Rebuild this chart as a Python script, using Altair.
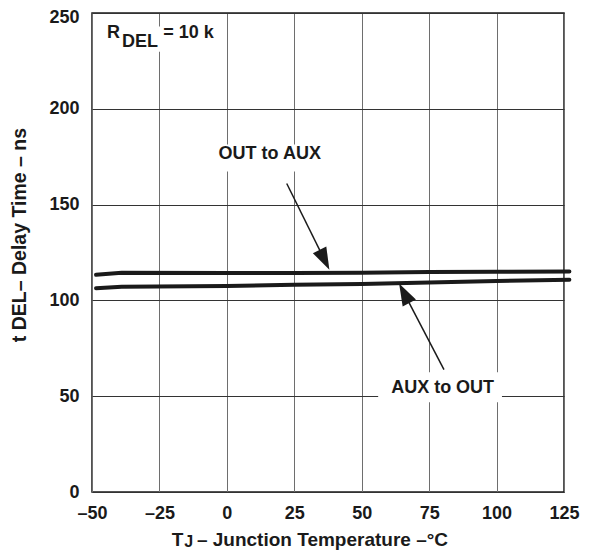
import altair as alt
import pandas as pd

FONT = "Liberation Sans"

# Curve data
temp = [-48.5, -39, 0, 25, 50, 75, 100, 127]
out_to_aux = [113.4, 114.4, 114.3, 114.3, 114.4, 114.8, 114.9, 115.1]
aux_to_out = [106.4, 107.1, 107.5, 108.2, 108.5, 109.4, 110.1, 110.8]

x_ticks = [-50, -25, 0, 25, 50, 75, 100, 125]
y_ticks = [0, 50, 100, 150, 200, 250]

# Annotations (data coordinates)
labels = ["OUT to AUX", "AUX to OUT"]
label_x = [15.9, 80.0]
label_y = [176.3, 54.5]
arrow_x0 = [22.2, 80.5]
arrow_y0 = [161.0, 63.9]
head_x = [36.2, 65.75]
head_y = [121.2, 103.7]
head_angle = [153.6, 332.4]

box_x = [-6.2, 56.1, -47.6]
box_x2 = [38.3, 102.0, -2.4]
box_y = [181.4, 62.5, 242.9]
box_y2 = [167.3, 46.8, 229.8]

rdel_text = ["R", "DEL", "= 10 k"]
rdel_x = [-44.4, -38.9, -23.6]
rdel_y = [239.4, 234.9, 239.4]

xt_text = ["T", "J", "– Junction Temperature –°C"]
xt_x = [-20.4, -15.8, -11.1]
xt_y = [-25.0, -26.2, -25.0]
xt_size = [19, 16, 19]

yt_text = ["t DEL– Delay Time – ns"]
yt_x = [-76.6]
yt_y = [134.1]

rows = []
for t, v in zip(temp, out_to_aux):
    rows.append({"T": t, "v": v, "s": "OUT to AUX"})
for t, v in zip(temp, aux_to_out):
    rows.append({"T": t, "v": v, "s": "AUX to OUT"})
curves = pd.DataFrame(rows)

ann = pd.DataFrame({"label": labels, "lx": label_x, "ly": label_y,
                    "ax": arrow_x0, "ay": arrow_y0, "hx": head_x, "hy": head_y,
                    "ang": head_angle})
boxes = pd.DataFrame({"x": box_x, "x2": box_x2, "y": box_y, "y2": box_y2})
rdel = pd.DataFrame({"t": rdel_text, "x": rdel_x, "y": rdel_y})
xt = pd.DataFrame({"t": xt_text, "x": xt_x, "y": xt_y, "fs": xt_size})
yt = pd.DataFrame({"t": yt_text, "x": yt_x, "y": yt_y})

xscale = alt.Scale(domain=[-50, 125], nice=False, zero=False)
yscale = alt.Scale(domain=[0, 250], nice=False)

xaxis = alt.Axis(values=x_ticks, title=None, labelFont=FONT, labelFontSize=18,
                 labelFontWeight="bold", labelColor="#1a1a1a", tickSize=0, ticks=False,
                 labelPadding=12, domain=False, grid=True, gridColor="#6e6e6e",
                 gridWidth=1, labelFlush=False,
                 labelExpr="datum.value < 0 ? '–' + abs(datum.value) : datum.label")
yaxis = alt.Axis(values=y_ticks, title=None, labelFont=FONT, labelFontSize=18,
                 labelFontWeight="bold", labelColor="#1a1a1a", tickSize=0, ticks=False,
                 labelPadding=13, domain=False, grid=True, gridColor="#333333",
                 gridWidth=1,
                 labelOffset={"condition": {"test": "datum.value == 250", "value": 4}, "value": 0})

lines = alt.Chart(curves).mark_line(color="#1a1a1a", strokeWidth=4, strokeCap="round").encode(
    x=alt.X("T:Q", scale=xscale, axis=xaxis),
    y=alt.Y("v:Q", scale=yscale, axis=yaxis),
    detail="s:N",
)

rects = alt.Chart(boxes).mark_rect(fill="white").encode(
    x=alt.X("x:Q", scale=xscale), x2="x2:Q",
    y=alt.Y("y:Q", scale=yscale), y2="y2:Q",
)

rules = alt.Chart(ann).mark_rule(color="#1a1a1a", strokeWidth=1.5).encode(
    x=alt.X("ax:Q", scale=xscale), y=alt.Y("ay:Q", scale=yscale),
    x2="hx:Q", y2="hy:Q",
)

heads = alt.Chart(ann).mark_point(
    shape="M0,-1L0.68,1L-0.68,1Z", filled=True, color="#1a1a1a", opacity=1, size=484,
    strokeWidth=0,
).encode(
    x=alt.X("hx:Q", scale=xscale), y=alt.Y("hy:Q", scale=yscale),
    angle=alt.Angle("ang:Q", scale=None),
)

label_text = alt.Chart(ann).mark_text(font=FONT, fontSize=18, fontWeight="bold",
                                      color="#1a1a1a", align="center", baseline="middle").encode(
    x=alt.X("lx:Q", scale=xscale), y=alt.Y("ly:Q", scale=yscale), text="label:N",
)

rdel_chart = alt.Chart(rdel).mark_text(font=FONT, fontSize=18, fontWeight="bold",
                                       color="#1a1a1a", align="left", baseline="middle").encode(
    x=alt.X("x:Q", scale=xscale), y=alt.Y("y:Q", scale=yscale), text="t:N",
)

xt_chart = alt.Chart(xt).mark_text(font=FONT, fontWeight="bold",
                                   color="#1a1a1a", align="left", baseline="middle").encode(
    x=alt.X("x:Q", scale=xscale), y=alt.Y("y:Q", scale=yscale), text="t:N",
    size=alt.Size("fs:Q", scale=None),
)

yt_chart = alt.Chart(yt).mark_text(font=FONT, fontSize=19.5, fontWeight="bold",
                                   color="#1a1a1a", align="center", baseline="middle",
                                   angle=270).encode(
    x=alt.X("x:Q", scale=xscale), y=alt.Y("y:Q", scale=yscale), text="t:N",
)

chart = alt.layer(lines, rects, rules, heads, label_text, rdel_chart, xt_chart, yt_chart).properties(
    width=472, height=479,
    autosize=alt.AutoSizeParams(type="none"),
    padding={"left": 84, "top": 5, "right": 18, "bottom": 58},
    background="white",
).configure_view(stroke="#1a1a1a", strokeWidth=1.5)

chart.save("out.html", embed_options={"renderer": "svg", "actions": False})
